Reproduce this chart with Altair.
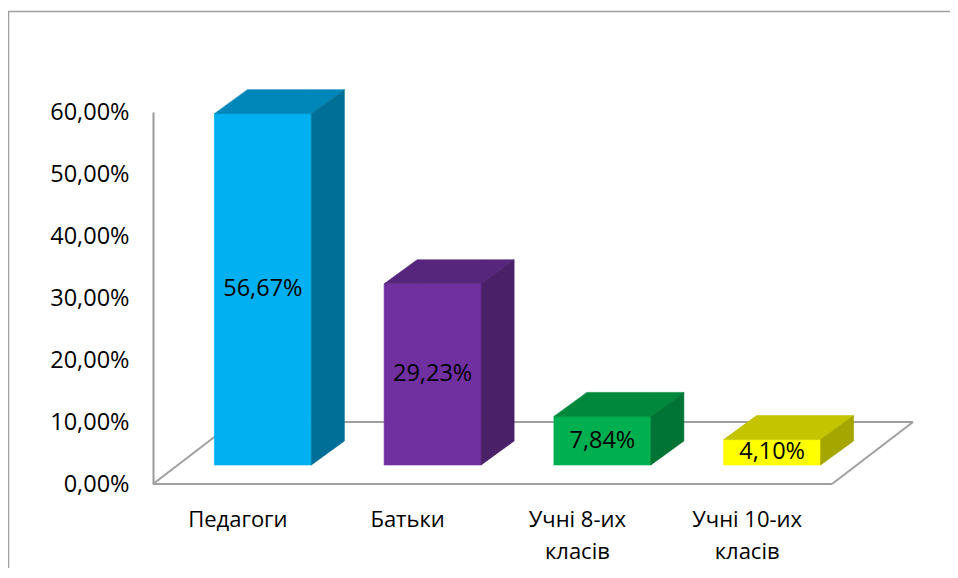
import altair as alt
import pandas as pd

# ---- data ----
categories = ["Педагоги", "Батьки", "Учні 8-их\nкласів", "Учні 10-их\nкласів"]
values = [56.67, 29.23, 7.84, 4.10]
front_colors = ["#00B0F0", "#7030A0", "#00B050", "#FFFF00"]
top_colors = ["#0087B9", "#56267D", "#00893D", "#C4C400"]
side_colors = ["#006F98", "#4A2068", "#007434", "#A6A600"]
y_ticks = [0, 10, 20, 30, 40, 50, 60]

# ---- layout / geometry (in data units) ----
W, H = 679, 372
n = len(categories)
PXU_X = W / n          # pixels per category unit
PXU_Y = H / 60.0       # pixels per percent
bw = 97 / PXU_X        # bar width
ox, oy = 25 / PXU_X, 19 / PXU_Y     # bar plane offset from front plane
dd, dh = 33 / PXU_X, 24 / PXU_Y     # bar depth
fdx, fdh = 81 / PXU_X, 62 / PXU_Y   # floor depth
label_y = -43 / PXU_Y

FONT = "Open Sans"
FS = 22
FS_NUM = 23.5

xs = alt.Scale(domain=[0, n], nice=False, zero=False)
ys = alt.Scale(domain=[0, 60], nice=False, zero=False)
yaxis = alt.Axis(
    values=y_ticks, title=None, grid=False, ticks=False, labelPadding=24,
    labelFont=FONT, labelFontSize=FS_NUM, labelColor="#000000",
    domainColor="#9A9A9A", domainWidth=2,
    labelExpr="replace(format(datum.value, '.2f'), '.', ',') + '%'",
)

front_rows, face_rows, lab_rows = [], [], []
for i, (c, v) in enumerate(zip(categories, values)):
    x0 = i + (1 - bw) / 2 + ox
    x1 = x0 + bw
    b, t = oy, oy + v
    front_rows.append(dict(x0=x0, x1=x1, b=b, t=t, fill=front_colors[i],
                           xm=(x0 + x1) / 2, ym=(b + t) / 2,
                           txt=f"{v:.2f}".replace(".", ",") + "%"))
    # top face
    for xx, lo, hi in [(x0, t, t), (x0 + dd, t, t + dh), (x1, t, t + dh), (x1 + dd, t + dh, t + dh)]:
        face_rows.append(dict(face=f"top{i}", x=xx, lo=lo, hi=hi, fill=top_colors[i]))
    # side face
    for xx, lo, hi in [(x1, b, t), (x1 + dd, b + dh, t + dh)]:
        face_rows.append(dict(face=f"side{i}", x=xx, lo=lo, hi=hi, fill=side_colors[i]))
    lab_rows.append(dict(x=i + 0.5, y=label_y, label=c))

front_df = pd.DataFrame(front_rows)
face_df = pd.DataFrame(face_rows)
lab_df = pd.DataFrame(lab_rows)
floor_df = pd.DataFrame([
    dict(x=0, y=0, x2=n, y2=0),
    dict(x=n, y=0, x2=n + fdx, y2=fdh),
    dict(x=fdx, y=fdh, x2=n + fdx, y2=fdh),
    dict(x=0, y=0, x2=fdx, y2=fdh),
])

floor = alt.Chart(floor_df).mark_rule(color="#A0A0A0", strokeWidth=2).encode(
    x=alt.X("x:Q", scale=xs, axis=None),
    y=alt.Y("y:Q", scale=ys, axis=yaxis),
    x2="x2:Q", y2="y2:Q",
)

front = alt.Chart(front_df).mark_rect(strokeWidth=0.6).encode(
    x=alt.X("x0:Q", scale=xs, axis=None), x2="x1:Q",
    y=alt.Y("b:Q", scale=ys, axis=yaxis), y2="t:Q",
    color=alt.Color("fill:N", scale=None),
    stroke=alt.Stroke("fill:N", scale=None),
)

faces = alt.Chart(face_df).mark_area(strokeWidth=0.6).encode(
    x=alt.X("x:Q", scale=xs, axis=None),
    y=alt.Y("lo:Q", scale=ys, axis=yaxis, stack=None), y2="hi:Q",
    detail="face:N",
    color=alt.Color("fill:N", scale=None),
    stroke=alt.Stroke("fill:N", scale=None),
)

vals = alt.Chart(front_df).mark_text(font=FONT, fontSize=FS_NUM, color="#000000", baseline="middle").encode(
    x=alt.X("xm:Q", scale=xs, axis=None),
    y=alt.Y("ym:Q", scale=ys, axis=yaxis),
    text="txt:N",
)

labels = alt.Chart(lab_df).mark_text(font=FONT, fontSize=FS, color="#000000",
                                     baseline="alphabetic", lineBreak="\n", lineHeight=32).encode(
    x=alt.X("x:Q", scale=xs, axis=None),
    y=alt.Y("y:Q", scale=ys, axis=yaxis),
    text="label:N",
)

one = alt.Data(values=[{}])
border_left = alt.Chart(one).mark_rule(color="#A0A0A0", strokeWidth=1.5).encode(
    x=alt.value(-144.5), y=alt.value(-100.5), y2=alt.value(470))
border_top = alt.Chart(one).mark_rule(color="#A0A0A0", strokeWidth=1.5).encode(
    x=alt.value(-145), x2=alt.value(797), y=alt.value(-100.5))

chart = alt.layer(border_left, border_top, floor, front, faces, vals, labels).properties(
    width=W, height=H,
    padding={"left": 145, "top": 104, "right": 118, "bottom": 84},
    autosize=alt.AutoSizeParams(type="none"),
).configure_view(stroke=None)

chart.save("out.html", embed_options={"renderer": "svg", "actions": False})
